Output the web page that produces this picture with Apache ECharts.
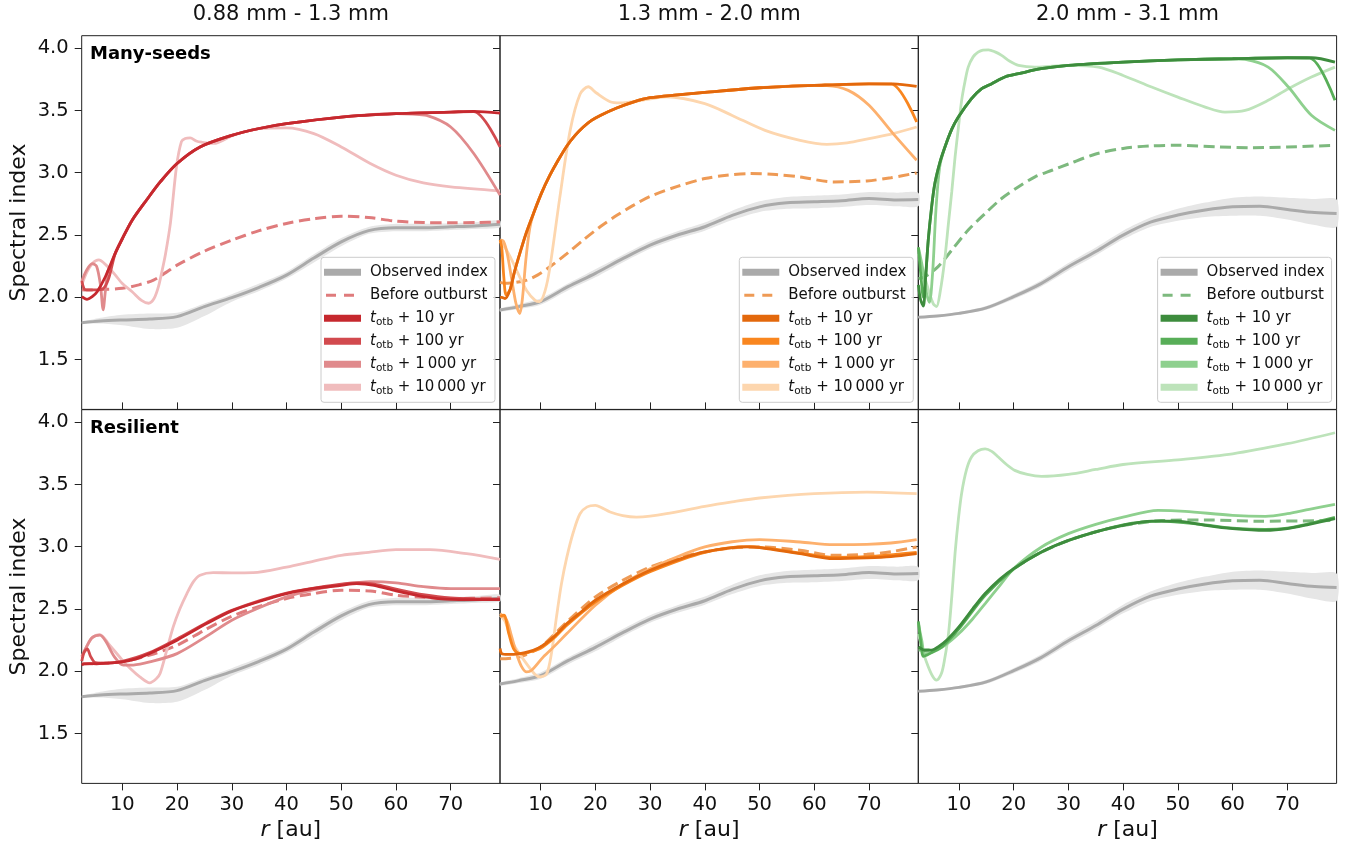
<!DOCTYPE html>
<html>
<head>
<meta charset="utf-8">
<script src="https://cdn.jsdelivr.net/npm/echarts@6/dist/echarts.min.js"></script>
<style>
  html, body { margin: 0; padding: 0; background: #fff; }
  #chart { width: 1352px; height: 845px; }
</style>
</head>
<body>
<div id="chart"></div>
<script>
// ticks and texts
const xTicks = [10, 20, 30, 40, 50, 60, 70];
const yTicks = [1.5, 2.0, 2.5, 3.0, 3.5, 4.0];
const sizeBins = ['0.88 mm - 1.3 mm', '1.3 mm - 2.0 mm', '2.0 mm - 3.1 mm'];
const modelNames = ['Many-seeds', 'Resilient'];

// observed spectral index, one per size bin (same in both rows)
const rObs = [2.6, 6, 10, 15, 20, 25, 30, 35, 40, 45, 50, 55, 60, 65, 70, 75, 79];
const obsMid1 = [1.796, 1.81, 1.818, 1.825, 1.845, 1.925, 1.997, 2.08, 2.178, 2.315, 2.445, 2.535, 2.558, 2.558, 2.566, 2.575, 2.587];
const obsLo1  = [1.79, 1.79, 1.775, 1.745, 1.755, 1.85, 1.965, 2.05, 2.15, 2.28, 2.41, 2.51, 2.53, 2.53, 2.54, 2.55, 2.56];
const obsHi1  = [1.80, 1.835, 1.86, 1.87, 1.875, 1.95, 2.025, 2.11, 2.205, 2.345, 2.475, 2.565, 2.59, 2.59, 2.595, 2.605, 2.615];
const obsMid2 = [1.898, 1.925, 1.965, 2.085, 2.192, 2.31, 2.419, 2.5, 2.566, 2.657, 2.726, 2.758, 2.766, 2.775, 2.793, 2.782, 2.785];
const obsLo2  = [1.885, 1.905, 1.94, 2.055, 2.16, 2.28, 2.39, 2.47, 2.535, 2.62, 2.685, 2.71, 2.715, 2.725, 2.74, 2.73, 2.73];
const obsHi2  = [1.91, 1.945, 1.99, 2.11, 2.225, 2.34, 2.45, 2.53, 2.6, 2.695, 2.77, 2.805, 2.815, 2.825, 2.845, 2.84, 2.84];
const obsMid3 = [1.839, 1.85, 1.871, 1.915, 2.005, 2.11, 2.245, 2.367, 2.499, 2.603, 2.66, 2.7, 2.726, 2.731, 2.705, 2.68, 2.673];
const obsLo3  = [1.835, 1.845, 1.862, 1.9, 1.985, 2.085, 2.215, 2.335, 2.465, 2.565, 2.615, 2.645, 2.655, 2.655, 2.625, 2.58, 2.565];
const obsHi3  = [1.845, 1.857, 1.882, 1.93, 2.025, 2.135, 2.275, 2.4, 2.535, 2.64, 2.71, 2.76, 2.8, 2.81, 2.8, 2.79, 2.785];

// Many-seeds, 0.88 - 1.3 mm  ([r, index])
const msBefore1 = [[2.6,2.06],[3.5,2.058],[6,2.062],[10,2.072],[13,2.1],[15.7,2.138],[18,2.2],[20,2.258],[25,2.37],[30,2.458],[35,2.535],[40,2.593],[45,2.63],[50,2.651],[55,2.64],[60,2.611],[65,2.6],[70,2.598],[75,2.6],[79,2.606]];
const ms10_1 = [[2.6,2.005],[3.55,1.984],[4.5,2.005],[5.4,2.045],[6.9,2.165],[8.7,2.352],[10,2.47],[11.8,2.619],[14.5,2.785],[17,2.93],[20,3.074],[24.2,3.207],[30,3.30],[35,3.355],[40,3.394],[50,3.447],[60,3.474],[70,3.487],[74.2,3.493],[79,3.479]];
const ms100_1 = [[2.6,2.13],[3.0,2.07],[3.5,2.06],[5,2.06],[6.5,2.07],[7.5,2.15],[8.7,2.352],[10,2.47],[11.8,2.619],[14.5,2.785],[17,2.93],[20,3.074],[24.2,3.207],[30,3.30],[35,3.355],[40,3.394],[50,3.447],[60,3.474],[70,3.487],[74.2,3.49],[79,3.207]];
const ms1000_1 = [[2.6,2.13],[3.5,2.22],[4.5,2.27],[5.3,2.25],[6,2.1],[6.5,1.9],[6.9,2.05],[7.3,2.2],[8,2.27],[8.7,2.352],[10,2.47],[11.8,2.619],[14.5,2.785],[17,2.93],[20,3.074],[24.2,3.207],[30,3.30],[35,3.355],[40,3.394],[50,3.447],[60,3.474],[63,3.47],[65.6,3.46],[70,3.367],[74.2,3.154],[79,2.82]];
const ms10000_1 = [[2.6,2.1],[3.5,2.2],[4.5,2.27],[5.7,2.30],[7,2.26],[8.7,2.18],[10,2.11],[11.8,2.045],[13.5,1.975],[14.8,1.952],[15.8,1.99],[16.6,2.085],[17.3,2.22],[17.9,2.35],[18.8,2.6],[19.9,3.05],[20.8,3.25],[21.5,3.275],[22.4,3.28],[23.5,3.255],[24.5,3.245],[26.7,3.235],[30.2,3.30],[35,3.354],[40,3.36],[45,3.314],[50,3.207],[55.3,3.074],[60,2.98],[65,2.918],[70,2.886],[79,2.854]];

// Resilient, 0.88 - 1.3 mm
const reBefore1 = [[2.6,2.06],[5,2.062],[10,2.076],[15,2.13],[20,2.209],[25,2.33],[30,2.442],[35,2.52],[40,2.584],[45,2.625],[50,2.65],[55.3,2.645],[60,2.61],[65,2.595],[70,2.584],[79,2.59]];
const re10_1 = [[2.6,2.05],[3.0,2.06],[4,2.062],[5.3,2.06],[7,2.065],[10,2.075],[12.5,2.1],[15,2.143],[20,2.25],[25.4,2.383],[30,2.485],[35,2.56],[40,2.624],[45,2.665],[50,2.69],[52.8,2.704],[56,2.69],[60,2.645],[65,2.6],[70,2.578],[79,2.575]];
const re100_1 = [[2.6,2.08],[3.0,2.15],[3.6,2.18],[4.2,2.12],[5,2.07],[6,2.065],[10,2.08],[15,2.15],[20,2.26],[25.4,2.39],[30,2.49],[40,2.628],[50,2.70],[53,2.71],[56,2.7],[60,2.66],[65,2.615],[70,2.59],[79,2.58]];
const re1000_1 = [[2.6,2.12],[3.5,2.2],[4.5,2.27],[5.9,2.29],[7,2.24],[8.5,2.12],[10.2,2.049],[12,2.05],[15,2.075],[20,2.142],[25,2.27],[30,2.41],[35,2.51],[40,2.597],[45,2.655],[50,2.696],[55.3,2.72],[60,2.71],[65,2.68],[70,2.664],[79,2.664]];
const re10000_1 = [[2.6,2.11],[3.5,2.2],[4.5,2.27],[5.9,2.295],[7.5,2.22],[10,2.09],[11.5,2.02],[13.2,1.955],[15,1.907],[16.2,1.94],[16.9,1.982],[18,2.15],[19.3,2.356],[20.5,2.5],[21.8,2.624],[23,2.72],[24.2,2.771],[26.6,2.792],[30,2.79],[33.9,2.792],[40,2.837],[45,2.885],[50,2.931],[55,2.955],[60,2.976],[66.2,2.976],[72.9,2.944],[79,2.899]];

// Many-seeds, 1.3 - 2.0 mm
const msBefore2 = [[2.6,2.12],[3.5,2.112],[5.5,2.12],[7.5,2.138],[9.5,2.18],[11.7,2.245],[14.8,2.35],[17.8,2.46],[21,2.57],[24,2.66],[27,2.74],[30,2.81],[35,2.89],[40,2.953],[44,2.98],[48,2.993],[53,2.985],[57.4,2.966],[63.5,2.926],[69.6,2.934],[74,2.96],[78.7,2.998]];
const ms10_2 = [[2.6,2.0],[2.9,2.0],[3.5,1.99],[4.4,2.058],[5.2,2.2],[6.2,2.352],[7.4,2.52],[8.7,2.673],[10.2,2.84],[11.7,2.98],[13.2,3.1],[14.8,3.215],[16.3,3.3],[17.8,3.367],[19.3,3.42],[20.9,3.46],[23.9,3.52],[26.9,3.567],[30,3.602],[35,3.625],[40,3.645],[50,3.682],[60,3.701],[70,3.714],[74.4,3.714],[78.7,3.693]];
const ms100_2 = [[2.6,2.46],[2.9,2.4],[3.3,2.15],[3.7,2.02],[4.4,2.058],[5.2,2.2],[6.2,2.352],[7.4,2.52],[8.7,2.673],[10.2,2.84],[11.7,2.98],[13.2,3.1],[14.8,3.215],[16.3,3.3],[17.8,3.367],[19.3,3.42],[20.9,3.46],[23.9,3.52],[26.9,3.567],[30,3.602],[35,3.625],[40,3.645],[50,3.682],[60,3.701],[70,3.714],[74.1,3.712],[78.7,3.407]];
const ms1000_2 = [[2.6,2.46],[3.2,2.45],[3.9,2.35],[4.7,2.15],[5.5,1.95],[6.2,1.87],[6.7,2.0],[7.3,2.3],[8,2.55],[8.7,2.673],[10.2,2.84],[11.7,2.98],[13.2,3.1],[14.8,3.215],[16.3,3.3],[17.8,3.367],[19.3,3.42],[20.9,3.46],[23.9,3.52],[26.9,3.567],[30,3.602],[35,3.625],[40,3.645],[50,3.682],[60,3.701],[62.3,3.70],[66.2,3.661],[70,3.541],[74.4,3.314],[78.7,3.10]];
const ms10000_2 = [[2.6,2.45],[3.5,2.40],[4.5,2.32],[6,2.18],[7.5,2.05],[9,1.975],[9.8,1.965],[10.8,2.05],[11.7,2.24],[13.5,2.8],[15.4,3.34],[17.2,3.63],[18.7,3.69],[20.2,3.64],[22.7,3.57],[24.5,3.56],[27,3.57],[33,3.61],[40,3.555],[45,3.46],[51,3.34],[57.4,3.26],[62.3,3.228],[66,3.239],[70,3.274],[74.4,3.314],[78.7,3.367]];

// Resilient, 1.3 - 2.0 mm
const reBefore2 = [[2.6,2.10],[6.2,2.116],[10,2.196],[14.8,2.396],[20,2.597],[25,2.73],[30,2.837],[35,2.91],[40,2.958],[45,2.99],[50,2.998],[57.4,2.971],[63.5,2.931],[69.6,2.939],[74,2.96],[78.7,2.998]];
const re10_2 = [[2.6,2.183],[2.9,2.142],[4,2.135],[6.2,2.142],[8,2.16],[10,2.196],[12.5,2.28],[14.8,2.383],[17.5,2.48],[20,2.57],[25,2.70],[30,2.811],[35,2.895],[40,2.958],[47.6,2.998],[50,2.993],[57.4,2.944],[63.5,2.904],[69.6,2.91],[74,2.92],[78.7,2.944]];
const re100_2 = [[2.6,2.44],[3.3,2.45],[4.2,2.3],[5.2,2.17],[6.5,2.14],[8,2.155],[10,2.185],[12.5,2.27],[14.8,2.37],[20,2.555],[25,2.69],[30,2.80],[40,2.955],[48,3.0],[57.4,2.95],[63.5,2.915],[69.6,2.92],[78.7,2.955]];
const re1000_2 = [[2.6,2.463],[3.8,2.41],[4.7,2.28],[5.6,2.142],[6.5,2.04],[7.45,1.995],[8.4,2.01],[10.5,2.116],[12.5,2.2],[14.8,2.303],[20,2.53],[25,2.7],[30,2.824],[35,2.92],[40,2.998],[45,3.04],[50,3.057],[57.4,3.038],[63.5,3.017],[69.6,3.019],[74,3.03],[78.7,3.057]];
const re10000_2 = [[2.6,2.45],[3.5,2.4],[5,2.22],[7.45,2.06],[9,1.975],[9.9,1.955],[11.1,1.98],[12,2.15],[12.9,2.437],[13.8,2.7],[14.8,2.918],[16,3.12],[17.2,3.265],[18.5,3.32],[20,3.332],[21.3,3.31],[22.7,3.279],[25,3.25],[27.5,3.238],[30,3.245],[33,3.265],[40,3.324],[45,3.36],[50,3.391],[60,3.426],[69.6,3.439],[78.7,3.426]];

// Many-seeds, 2.0 - 3.1 mm
const msBefore3 = [[2.6,2.15],[3.8,2.166],[6.2,2.246],[8.7,2.379],[11.7,2.54],[14.8,2.673],[17.8,2.793],[20.9,2.887],[23.9,2.967],[27,3.02],[30,3.07],[35,3.15],[40,3.195],[45,3.215],[50,3.22],[57.4,3.207],[63.5,3.201],[70,3.207],[78.7,3.22]];
const ms10_3 = [[2.6,2.1],[3.0,1.98],[3.5,1.93],[3.9,2.15],[4.4,2.46],[5,2.72],[5.6,2.913],[6.5,3.08],[7.45,3.207],[8.7,3.35],[9.9,3.448],[12.3,3.595],[14,3.67],[16,3.715],[18.5,3.77],[20.9,3.795],[25,3.835],[30,3.862],[40,3.888],[50,3.906],[60,3.915],[70,3.923],[74.4,3.923],[78.7,3.888]];
const ms100_3 = [[2.6,2.4],[3.0,2.2],[3.5,2.0],[3.9,2.15],[4.4,2.46],[5,2.72],[5.6,2.913],[6.5,3.08],[7.45,3.207],[8.7,3.35],[9.9,3.448],[12.3,3.595],[14,3.67],[16,3.715],[18.5,3.77],[20.9,3.795],[25,3.835],[30,3.862],[40,3.888],[50,3.906],[60,3.915],[70,3.923],[74.1,3.92],[78.7,3.581]];
const ms1000_3 = [[2.6,2.4],[3.3,2.25],[4.0,2.05],[4.6,1.96],[5.2,2.2],[5.8,2.7],[6.5,3.05],[7.45,3.207],[8.7,3.35],[9.9,3.448],[12.3,3.595],[14,3.67],[16,3.715],[18.5,3.77],[20.9,3.795],[25,3.835],[30,3.862],[40,3.888],[50,3.906],[60,3.915],[62.3,3.91],[66.5,3.848],[70.2,3.688],[74.4,3.461],[78.7,3.34]];
const ms10000_3 = [[2.6,2.35],[3.5,2.2],[4.5,2.05],[5.3,1.95],[5.9,1.925],[6.6,2.05],[7.4,2.3],[8.1,2.6],[8.7,2.85],[9.3,3.127],[9.9,3.36],[10.5,3.581],[11.1,3.73],[11.7,3.848],[12.6,3.93],[13.5,3.968],[14.4,3.985],[15.4,3.987],[16.6,3.97],[17.8,3.942],[19.3,3.895],[20.9,3.862],[23.9,3.848],[27,3.855],[30,3.861],[35.5,3.848],[40,3.781],[45.2,3.688],[50,3.607],[55,3.527],[58.6,3.487],[62.3,3.5],[66.5,3.581],[70.2,3.674],[74.4,3.768],[78.7,3.848]];

// Resilient, 2.0 - 3.1 mm
const reBefore3 = [[2.6,2.17],[5,2.17],[7.5,2.22],[10,2.35],[14.8,2.62],[20,2.82],[25,2.955],[30,3.05],[35,3.12],[40,3.17],[47,3.21],[55,3.215],[65,3.205],[78.7,3.21]];
const re10_3 = [[2.6,2.196],[3.8,2.169],[5,2.17],[6.2,2.196],[8,2.26],[10,2.356],[12.5,2.5],[14.8,2.624],[17.5,2.74],[20,2.824],[25.1,2.958],[30,3.051],[35,3.12],[40,3.172],[45.2,3.206],[50,3.206],[55,3.172],[60,3.145],[66,3.131],[70,3.145],[74,3.18],[78.7,3.225]];
const re100_3 = [[2.6,2.4],[3.0,2.25],[3.5,2.12],[4.2,2.13],[5,2.15],[7,2.2],[10,2.34],[14.8,2.61],[20,2.82],[25,2.955],[30,3.05],[40,3.175],[47,3.205],[55,3.175],[60,3.15],[66,3.14],[70,3.15],[74,3.185],[78.7,3.235]];
const re1000_3 = [[2.6,2.383],[3.2,2.25],[3.8,2.142],[5,2.15],[7.45,2.209],[10,2.303],[12.5,2.42],[14.8,2.543],[17.5,2.69],[20,2.824],[25.1,2.998],[30,3.105],[35,3.18],[40,3.238],[46.4,3.292],[51.3,3.284],[60,3.252],[66,3.244],[70,3.265],[74,3.3],[78.7,3.34]];
const re10000_3 = [[2.6,2.3],[3.5,2.15],[4.4,2.036],[5.2,1.96],[5.9,1.929],[6.8,1.982],[7.4,2.1],[8.1,2.303],[8.7,2.6],[9.3,2.95],[9.9,3.22],[10.5,3.43],[11.4,3.62],[12.3,3.72],[13.5,3.77],[14.8,3.785],[16,3.765],[17.2,3.72],[18.7,3.66],[20.2,3.613],[22.5,3.58],[25.1,3.565],[30,3.581],[35,3.62],[40,3.66],[50,3.698],[60,3.746],[70,3.827],[78.7,3.915]];

const FONT = 'DejaVu Sans';
const colLeft = [81.7, 500, 918.3];
const rowTop = [35.7, 409.7];
const panelW = 418.3, panelH = 373.7;

const palettes = [
    { bo: '#df7b7c', m: ['#c6282e', '#d24a4e', '#e08a8c', '#f0bcbd'] },
    { bo: '#ee9a55', m: ['#e3680c', '#f9861f', '#fdb06d', '#fdd6ae'] },
    { bo: '#7db97e', m: ['#3d8c3d', '#58ae58', '#8ed08e', '#bde3ba'] }
];
const obsMid = [obsMid1, obsMid2, obsMid3];
const obsLo = [obsLo1, obsLo2, obsLo3];
const obsHi = [obsHi1, obsHi2, obsHi3];
// per panel: before, +10, +100, +1000, +10000
const panelCurves = [
    [msBefore1, ms10_1, ms100_1, ms1000_1, ms10000_1],
    [msBefore2, ms10_2, ms100_2, ms1000_2, ms10000_2],
    [msBefore3, ms10_3, ms100_3, ms1000_3, ms10000_3],
    [reBefore1, re10_1, re100_1, re1000_1, re10000_1],
    [reBefore2, re10_2, re100_2, re1000_2, re10000_2],
    [reBefore3, re10_3, re100_3, re1000_3, re10000_3]
];
const steps = ['10', '100', '1000', '10000'];
const legendText = {
    obs: 'Observed index',
    bo: 'Before outburst',
    '10': '{it|t}{sub|otb} + 10 yr',
    '100': '{it|t}{sub|otb} + 100 yr',
    '1000': '{it|t}{sub|otb} + 1\u2009000 yr',
    '10000': '{it|t}{sub|otb} + 10\u2009000 yr'
};
const dashIcon = 'path://M0,0M37,7M2,2h10v3h-10zM20,2h10v3h-10z';

let grids = [], xAxes = [], yAxes = [], series = [], legends = [], graphics = [];

for (let p = 0; p < 6; p++) {
    let row = Math.floor(p / 3), col = p % 3;
    grids.push({
        left: colLeft[col], top: rowTop[row], width: panelW, height: panelH,
        show: true, borderColor: '#222', borderWidth: 1, backgroundColor: 'transparent'
    });
    xAxes.push({
        type: 'value', gridIndex: p, min: 2.58, max: 79,
        axisLine: { show: false },
        splitLine: { show: false },
        axisTick: { show: true, customValues: xTicks, inside: row === 0, length: 7, lineStyle: { color: '#222', width: 1 } },
        axisLabel: { show: row === 1, customValues: xTicks, fontFamily: FONT, fontSize: 19.5, color: '#111', margin: 12 },
        name: row === 1 ? '{i|r} [au]' : '',
        nameLocation: 'middle', nameGap: 36,
        nameTextStyle: { fontFamily: FONT, fontSize: 22, color: '#111', rich: { i: { fontFamily: FONT, fontSize: 22, fontStyle: 'italic', color: '#111' } } }
    });
    yAxes.push({
        type: 'value', gridIndex: p, min: 1.1, max: 4.1,
        axisLine: { show: false },
        splitLine: { show: false },
        axisTick: { show: true, customValues: yTicks, inside: false, length: 7, lineStyle: { color: '#222', width: 1 } },
        axisLabel: { show: col === 0, customValues: yTicks, fontFamily: FONT, fontSize: 19.5, color: '#111', margin: 13,
            formatter: v => v.toFixed(1) },
        name: col === 0 ? 'Spectral index' : '',
        nameLocation: 'middle', nameGap: 51,
        nameTextStyle: { fontFamily: FONT, fontSize: 22, color: '#111' }
    });

    const lo = obsLo[col], hi = obsHi[col];
    // shaded band of the observation, drawn through the axes
    series.push({
        type: 'custom', name: p + '_band', xAxisIndex: p, yAxisIndex: p, silent: true,
        data: [0],
        renderItem: (params, api) => {
            let pts = [];
            for (let i = 0; i < rObs.length; i++) pts.push(api.coord([rObs[i], hi[i]]));
            for (let i = rObs.length - 1; i >= 0; i--) pts.push(api.coord([rObs[i], lo[i]]));
            return { type: 'polygon', shape: { points: pts, smooth: 0.25 }, style: { fill: '#e6e6e6' } };
        }
    });
    const base = { type: 'line', xAxisIndex: p, yAxisIndex: p, symbol: 'none', silent: true, smooth: 0.3 };
    series.push(Object.assign({}, base, {
        name: p + '_obs',
        itemStyle: { color: '#aaaaaa' }, lineStyle: { color: '#aaaaaa', width: 3 },
        data: rObs.map((r, i) => [r, obsMid[col][i]])
    }));
    const cur = panelCurves[p], pal = palettes[col];
    series.push(Object.assign({}, base, {
        name: p + '_bo',
        itemStyle: { color: pal.bo }, lineStyle: { color: pal.bo, width: 3, type: [11, 5.5] },
        data: cur[0]
    }));
    for (let k = 3; k >= 0; k--) {
        series.push(Object.assign({}, base, {
            name: p + '_' + steps[k],
            itemStyle: { color: pal.m[k] }, lineStyle: { color: pal.m[k], width: 2.8 },
            data: cur[k + 1]
        }));
    }

    if (row === 0) {
        graphics.push({ type: 'text', x: colLeft[col] + panelW / 2, y: 15,
            style: { text: sizeBins[col], font: '21px "DejaVu Sans"', fill: '#111', textAlign: 'center', textVerticalAlign: 'middle' } });
        legends.push({
            orient: 'vertical', left: colLeft[col] + 239.3, top: 257.3,
            padding: [6, 7, 6, 3], itemWidth: 37, itemHeight: 7, itemGap: 5,
            backgroundColor: 'rgba(255,255,255,0.8)', borderColor: '#cccccc', borderWidth: 1, borderRadius: 3,
            selectedMode: false, icon: 'rect',
            itemStyle: { borderWidth: 0 },
            data: [
                { name: p + '_obs' }, { name: p + '_bo', icon: dashIcon },
                { name: p + '_10' }, { name: p + '_100' }, { name: p + '_1000' }, { name: p + '_10000' }
            ],
            formatter: n => legendText[n.split('_')[1]],
            textStyle: {
                fontFamily: FONT, fontSize: 15, color: '#111', lineHeight: 18, padding: [0, 0, 0, 4],
                rich: {
                    it: { fontFamily: FONT, fontSize: 15, fontStyle: 'italic', color: '#111', lineHeight: 18 },
                    sub: { fontFamily: FONT, fontSize: 10.5, color: '#111', lineHeight: 10, verticalAlign: 'bottom' }
                }
            }
        });
    }
    if (col === 0) {
        graphics.push({ type: 'text', x: 90, y: row === 0 ? 54.7 : 428.5,
            style: { text: modelNames[row], font: 'bold 18px "DejaVu Sans"', fill: '#000', textAlign: 'left', textVerticalAlign: 'middle' } });
    }
}

let chart = echarts.init(document.getElementById('chart'), null, { renderer: 'canvas' });
chart.setOption({
    animation: false,
    backgroundColor: '#fff',
    grid: grids,
    xAxis: xAxes,
    yAxis: yAxes,
    legend: legends,
    graphic: graphics,
    series: series
});
</script>
</body>
</html>
